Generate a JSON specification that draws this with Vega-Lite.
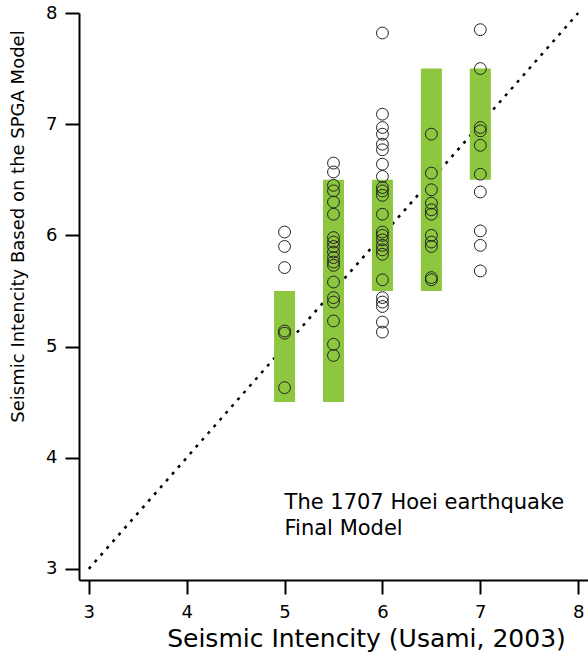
{
  "$schema": "https://vega.github.io/schema/vega-lite/v6.json",
  "width": 509,
  "height": 567,
  "autosize": {"type": "none"},
  "padding": {"left": 79, "top": 13, "right": 0, "bottom": 75},
  "background": "white",
  "config": {"view": {"stroke": null}, "font": "DejaVu Sans"},
  "datasets": {
    "bars": [
      {"x": 5.0, "y": 4.5, "y2": 5.5},
      {"x": 5.5, "y": 4.5, "y2": 6.5},
      {"x": 6.0, "y": 5.5, "y2": 6.5},
      {"x": 6.5, "y": 5.5, "y2": 7.5},
      {"x": 7.0, "y": 6.5, "y2": 7.5}
    ],
    "diag": [{"x": 3, "y": 3}, {"x": 8, "y": 8}],
    "pts": [
      {"x": 5.0, "y": 6.03}, {"x": 5.0, "y": 5.90}, {"x": 5.0, "y": 5.71}, {"x": 5.0, "y": 5.14}, {"x": 5.0, "y": 5.12}, {"x": 5.0, "y": 4.63},
      {"x": 5.5, "y": 6.65}, {"x": 5.5, "y": 6.57}, {"x": 5.5, "y": 6.45}, {"x": 5.5, "y": 6.40}, {"x": 5.5, "y": 6.30}, {"x": 5.5, "y": 6.19},
      {"x": 5.5, "y": 5.98}, {"x": 5.5, "y": 5.94}, {"x": 5.5, "y": 5.90}, {"x": 5.5, "y": 5.85}, {"x": 5.5, "y": 5.80}, {"x": 5.5, "y": 5.76},
      {"x": 5.5, "y": 5.73}, {"x": 5.5, "y": 5.58}, {"x": 5.5, "y": 5.44}, {"x": 5.5, "y": 5.40}, {"x": 5.5, "y": 5.23}, {"x": 5.5, "y": 5.02}, {"x": 5.5, "y": 4.92},
      {"x": 6.0, "y": 7.82}, {"x": 6.0, "y": 7.09}, {"x": 6.0, "y": 6.97}, {"x": 6.0, "y": 6.91}, {"x": 6.0, "y": 6.82}, {"x": 6.0, "y": 6.77},
      {"x": 6.0, "y": 6.64}, {"x": 6.0, "y": 6.53}, {"x": 6.0, "y": 6.43}, {"x": 6.0, "y": 6.40}, {"x": 6.0, "y": 6.36}, {"x": 6.0, "y": 6.19},
      {"x": 6.0, "y": 6.03}, {"x": 6.0, "y": 6.00}, {"x": 6.0, "y": 5.96}, {"x": 6.0, "y": 5.91}, {"x": 6.0, "y": 5.87}, {"x": 6.0, "y": 5.83},
      {"x": 6.0, "y": 5.60}, {"x": 6.0, "y": 5.44}, {"x": 6.0, "y": 5.40}, {"x": 6.0, "y": 5.36}, {"x": 6.0, "y": 5.22}, {"x": 6.0, "y": 5.13},
      {"x": 6.5, "y": 6.91}, {"x": 6.5, "y": 6.56}, {"x": 6.5, "y": 6.41}, {"x": 6.5, "y": 6.29}, {"x": 6.5, "y": 6.23}, {"x": 6.5, "y": 6.19},
      {"x": 6.5, "y": 6.00}, {"x": 6.5, "y": 5.94}, {"x": 6.5, "y": 5.90}, {"x": 6.5, "y": 5.62}, {"x": 6.5, "y": 5.60},
      {"x": 7.0, "y": 7.85}, {"x": 7.0, "y": 7.50}, {"x": 7.0, "y": 6.97}, {"x": 7.0, "y": 6.94}, {"x": 7.0, "y": 6.81},
      {"x": 7.0, "y": 6.55}, {"x": 7.0, "y": 6.39}, {"x": 7.0, "y": 6.04}, {"x": 7.0, "y": 5.91}, {"x": 7.0, "y": 5.68}
    ],
    "notes": [
      {"x": 5.0, "y": 3.594, "label": "The 1707 Hoei earthquake"},
      {"x": 5.0, "y": 3.36, "label": "Final Model"}
    ]
  },
  "encoding": {
    "x": {
      "field": "x", "type": "quantitative",
      "scale": {"domain": [2.9, 8.1], "nice": false, "zero": false, "padding": 0},
      "axis": {
        "values": [3, 4, 5, 6, 7, 8], "grid": false,
        "domainColor": "black", "domainWidth": 2,
        "tickColor": "black", "tickWidth": 2, "tickSize": 14,
        "labelFontSize": 18, "labelColor": "black", "labelPadding": 9, "labelFlush": false,
        "title": "Seismic Intencity (Usami, 2003)", "titleFontSize": 25, "titleFontWeight": "normal",
        "titleColor": "black", "titleX": 287, "titleY": 58, "titleBaseline": "middle", "titleAlign": "center"
      }
    },
    "y": {
      "field": "y", "type": "quantitative",
      "scale": {"domain": [2.9, 8], "nice": false, "zero": false, "padding": 0},
      "axis": {
        "values": [3, 4, 5, 6, 7, 8], "grid": false,
        "domainColor": "black", "domainWidth": 2,
        "tickColor": "black", "tickWidth": 2, "tickSize": 14,
        "labelFontSize": 18, "labelColor": "black", "labelPadding": 8, "labelFlush": false,
        "title": "Seismic Intencity Based on the SPGA Model", "titleFontSize": 18, "titleFontWeight": "normal",
        "titleColor": "black", "titleX": -61, "titleY": 213, "titleBaseline": "middle", "titleAlign": "center", "titleAngle": -90
      }
    }
  },
  "layer": [
    {
      "data": {"name": "diag"},
      "mark": {"type": "line", "color": "black", "strokeWidth": 2.5, "strokeDash": [3, 6]}
    },
    {
      "data": {"name": "bars"},
      "mark": {"type": "bar", "color": "#8dc63f", "size": 21},
      "encoding": {"y2": {"field": "y2"}}
    },
    {
      "data": {"name": "pts"},
      "mark": {"type": "point", "shape": "circle", "filled": false, "stroke": "#222", "strokeWidth": 1, "size": 140, "opacity": 1}
    },
    {
      "data": {"name": "notes"},
      "mark": {"type": "text", "align": "left", "baseline": "middle", "fontSize": 21, "font": "DejaVu Sans", "color": "black"},
      "encoding": {"text": {"field": "label"}}
    }
  ]
}
